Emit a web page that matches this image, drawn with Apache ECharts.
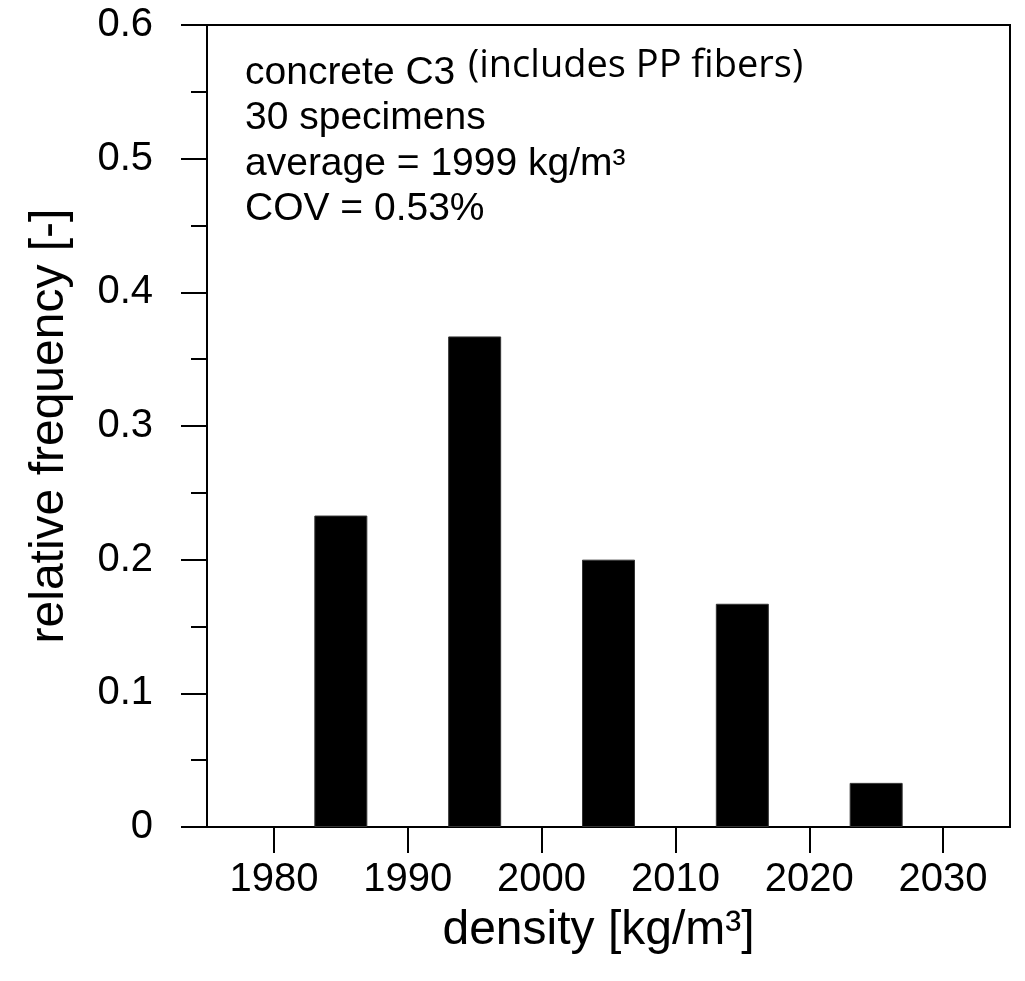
<!DOCTYPE html>
<html>
<head>
<meta charset="utf-8">
<script src="https://cdn.jsdelivr.net/npm/echarts@6/dist/echarts.min.js"></script>
<style>
html,body{margin:0;padding:0;background:#fff;}
#chart{width:1025px;height:981px;}
</style>
</head>
<body>
<div id="chart"></div>
<script>
// ---- data ----
var binCenters = [1985, 1995, 2005, 2015, 2025];
var frequencies = [0.233, 0.367, 0.200, 0.167, 0.033];
var xTickValues = [1980, 1990, 2000, 2010, 2020, 2030];
var xAxisTitle = 'density [kg/m³]';
var yAxisTitle = 'relative frequency [-]';
var infoLines = ['concrete C3', '30 specimens', 'average = 1999 kg/m³', 'COV = 0.53%'];
var infoNote = '(includes PP fibers)';

var FONT = '"Liberation Sans", Arial, sans-serif';
var chart = echarts.init(document.getElementById('chart'), null, {renderer: 'canvas'});

var seriesData = binCenters.map(function (c, i) { return [c, frequencies[i]]; });

chart.setOption({
  animation: false,
  backgroundColor: '#fff',
  grid: {
    left: 207, right: 15, top: 25, bottom: 154,
    show: true, borderColor: '#000', borderWidth: 2, backgroundColor: 'transparent'
  },
  xAxis: {
    type: 'value',
    min: 1975, max: 2035,
    name: xAxisTitle,
    nameLocation: 'middle',
    nameGap: 80,
    nameTextStyle: {fontFamily: FONT, fontSize: 48, color: '#000', padding: [0, 20, 0, 0]},
    axisLine: {show: true, lineStyle: {color: '#000', width: 2}},
    axisTick: {show: true, inside: false, length: 26, lineStyle: {color: '#000', width: 2}, customValues: xTickValues},
    axisLabel: {show: true, fontFamily: FONT, fontSize: 40, color: '#000', margin: 33, customValues: xTickValues,
      formatter: function (v) { return String(v); }},
    splitLine: {show: false}
  },
  yAxis: {
    type: 'value',
    min: 0, max: 0.6, interval: 0.1,
    name: yAxisTitle,
    nameLocation: 'middle',
    nameGap: 133,
    nameTextStyle: {fontFamily: FONT, fontSize: 48, color: '#000'},
    axisLine: {show: true, lineStyle: {color: '#000', width: 2}},
    axisTick: {show: true, inside: false, length: 26, lineStyle: {color: '#000', width: 2}},
    minorTick: {show: true, splitNumber: 2, length: 16, lineStyle: {color: '#000', width: 2}},
    axisLabel: {fontFamily: FONT, fontSize: 40, color: '#000', margin: 54,
      formatter: function (v) { return v === 0 ? '0' : v.toFixed(1); }},
    splitLine: {show: false},
    minorSplitLine: {show: false}
  },
  series: [{
    type: 'bar',
    data: seriesData,
    barWidth: 53,
    itemStyle: {color: '#000', borderColor: '#333', borderWidth: 1}
  }],
  graphic: [
    {
      type: 'text', left: 245, top: 50,
      style: {text: infoLines.join('\n'), font: '39px ' + FONT, fill: '#000', lineHeight: 45.5}
    },
    {
      type: 'text', left: 468, top: 47,
      style: {text: infoNote, font: '38px "Open Sans", "Noto Sans", sans-serif', fill: '#000'}
    }
  ]
});
</script>
</body>
</html>
